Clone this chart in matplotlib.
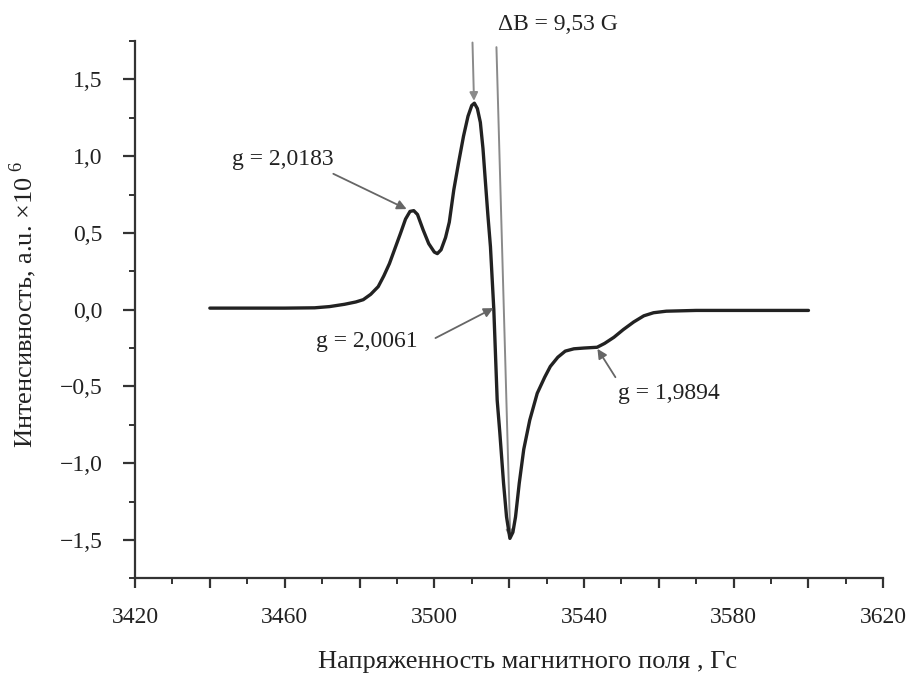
import matplotlib

matplotlib.use("Agg")
import matplotlib.pyplot as plt
from matplotlib.ticker import MultipleLocator, FuncFormatter

plt.rcParams["font.family"] = ["Liberation Serif", "DejaVu Serif"]
plt.rcParams["mathtext.fontset"] = "custom"
plt.rcParams["mathtext.rm"] = "Liberation Serif"

# EPR spectrum: field (G) and intensity (a.u. x 1e6)
field = [3440, 3450, 3460, 3468, 3472, 3476, 3479, 3481, 3483, 3485,
         3486.5, 3488, 3489.5, 3491, 3492.3, 3493.5, 3494.5, 3495.5, 3497, 3498.5,
         3500, 3500.8, 3501.8, 3503, 3504, 3505.2, 3506.5, 3507.8, 3509, 3510,
         3510.7, 3511.5, 3512.3, 3513, 3513.6, 3514.3, 3515, 3515.9, 3516.8, 3517.5,
         3518.5, 3519.3, 3520.2, 3521, 3521.7, 3522.7, 3523.9, 3525.5, 3527.5, 3529.5,
         3531, 3533, 3535, 3537.3, 3540, 3543.5, 3545.5, 3548, 3550.5, 3553.3,
         3556, 3558.6, 3562, 3570, 3580, 3590, 3600]
intensity = [0.01, 0.01, 0.01, 0.012, 0.02, 0.035, 0.05, 0.065, 0.10, 0.15,
             0.22, 0.30, 0.40, 0.50, 0.59, 0.64, 0.645, 0.62, 0.52, 0.43,
             0.375, 0.365, 0.39, 0.47, 0.57, 0.78, 0.96, 1.13, 1.26, 1.33,
             1.345, 1.31, 1.22, 1.05, 0.85, 0.62, 0.41, 0.0, -0.59, -0.80,
             -1.13, -1.35, -1.49, -1.45, -1.35, -1.13, -0.91, -0.72, -0.545, -0.44,
             -0.37, -0.31, -0.27, -0.255, -0.25, -0.245, -0.22, -0.18, -0.13, -0.08,
             -0.04, -0.02, -0.01, -0.005, -0.005, -0.005, -0.005]

# g-factor labels: (text, text position, arrow tail, arrow tip)
g_labels = ["g = 2,0183", "g = 2,0061", "g = 1,9894"]
g_text_xy = [(3459.6, 0.975), (3482.0, -0.21), (3562.6, -0.545)]
g_tail_xy = [(3473.0, 0.885), (3500.3, -0.185), (3548.4, -0.44)]
g_tip_xy = [(3492.6, 0.655), (3515.8, 0.01), (3543.6, -0.255)]

delta_b_label = "ΔB = 9,53 G"
delta_b_xy = (3533.0, 1.855)
delta_b_lines = [((3510.2, 1.74), (3510.6, 1.36)), ((3516.6, 1.71), (3520.3, -1.49))]

fig = plt.figure(figsize=(9.16, 6.79), dpi=100)
ax = fig.add_axes([0.1474, 0.1483, 0.8169, 0.7913])

ax.plot(field, intensity, color="#222222", lw=2.4, solid_joinstyle="round",
        solid_capstyle="round", zorder=3)

for (x0, y0), (x1, y1) in delta_b_lines:
    ax.annotate("", xy=(x1, y1), xytext=(x0, y0),
                arrowprops=dict(arrowstyle="-|>", color="#8a8a8a", lw=1.4,
                                mutation_scale=12, shrinkA=0, shrinkB=0),
                annotation_clip=False, zorder=2)
ax.text(delta_b_xy[0], delta_b_xy[1], delta_b_label, ha="center", va="center",
        fontsize=17, color="#222222")

for label, txy, tail, tip in zip(g_labels, g_text_xy, g_tail_xy, g_tip_xy):
    ax.text(txy[0], txy[1], label, ha="center", va="center", fontsize=17,
            color="#222222")
    ax.annotate("", xy=tip, xytext=tail,
                arrowprops=dict(arrowstyle="-|>", color="#666666", lw=1.3,
                                mutation_scale=14, shrinkA=0, shrinkB=0),
                zorder=4)

ax.set_xlim(3420, 3620)
ax.set_ylim(-1.75, 1.75)

ax.xaxis.set_major_locator(MultipleLocator(20))
ax.xaxis.set_minor_locator(MultipleLocator(10))
ax.xaxis.set_major_formatter(FuncFormatter(
    lambda v, p: f"{v:.0f}" if round(v) % 40 == 20 else ""))
ax.yaxis.set_major_locator(MultipleLocator(0.5))
ax.yaxis.set_minor_locator(MultipleLocator(0.25))
ax.yaxis.set_major_formatter(FuncFormatter(
    lambda v, p: f"{v:.1f}".replace(".", ",").replace("-", "\u2212")))

for side in ("top", "right"):
    ax.spines[side].set_visible(False)
for side in ("left", "bottom"):
    ax.spines[side].set_linewidth(1.6)
    ax.spines[side].set_color("#333333")

ax.tick_params(axis="both", which="major", direction="out", width=1.6,
               color="#333333", labelsize=17, labelcolor="#222222")
ax.tick_params(axis="both", which="minor", direction="out", width=1.4,
               color="#333333")
ax.tick_params(axis="y", which="major", length=8.5, pad=15)
ax.tick_params(axis="y", which="minor", length=4.2)
ax.tick_params(axis="x", which="major", length=7.5, pad=13)
ax.tick_params(axis="x", which="minor", length=4.5)

ax.set_xlabel("Напряженность магнитного поля , Гс", fontsize=19,
              color="#222222")
ax.xaxis.set_label_coords(0.524, -0.135)
ax.set_ylabel("Интенсивность, a.u. ×10$^{\\ 6}$", fontsize=19,
              color="#222222")
ax.yaxis.set_label_coords(-0.128, 0.51)

fig.savefig("out.png", dpi=100)
plt.close(fig)
